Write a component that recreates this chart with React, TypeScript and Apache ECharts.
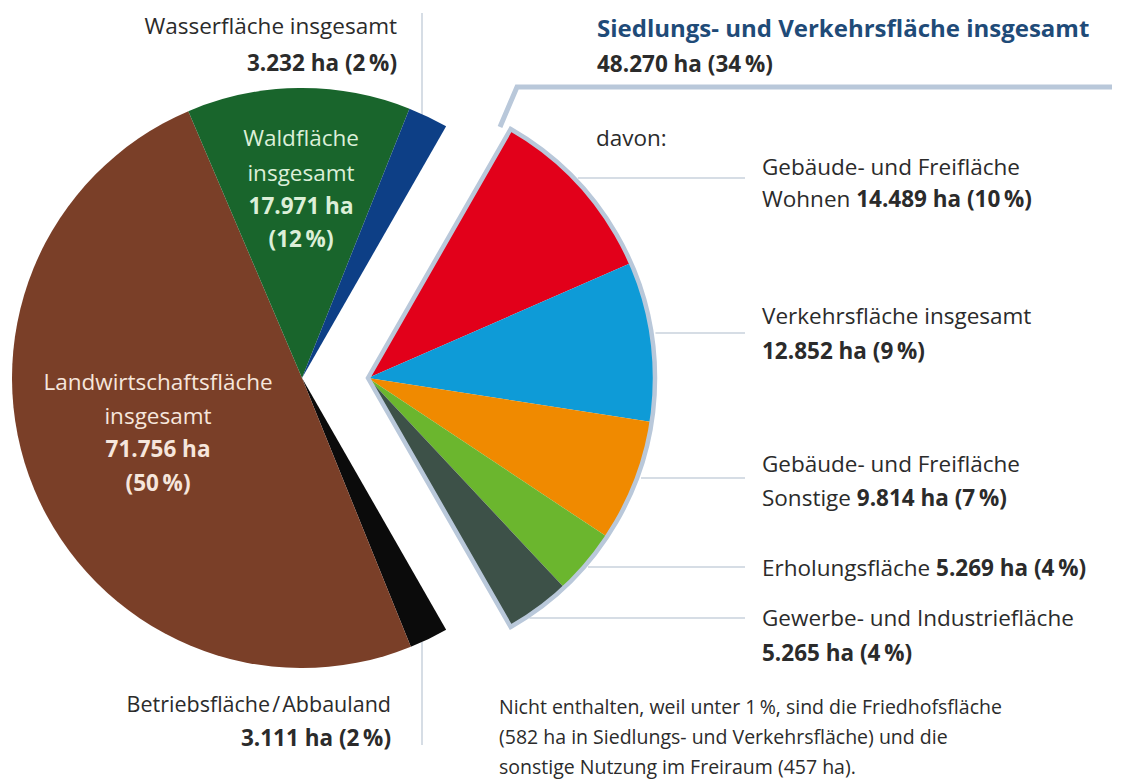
import React, { useEffect, useRef } from "react";
import * as echarts from "echarts";

// ---------- data ----------
const mainNames = [
  "Siedlungs- und Verkehrsfläche insgesamt",
  "Betriebsfläche / Abbauland",
  "Landwirtschaftsfläche insgesamt",
  "Waldfläche insgesamt",
  "Wasserfläche insgesamt",
];
const mainValues = [48270, 3111, 71756, 17971, 3232];
const mainPercents = [34, 2, 50, 12, 2];

const subNames = [
  "Gebäude- und Freifläche Wohnen",
  "Verkehrsfläche insgesamt",
  "Gebäude- und Freifläche Sonstige",
  "Erholungsfläche",
  "Gewerbe- und Industriefläche",
];
const subValues = [14489, 12852, 9814, 5269, 5265];
const subPercents = [10, 9, 7, 4, 4];

const footnoteLines = [
  "Nicht enthalten, weil unter 1\u2009%, sind die Friedhofsfläche",
  "(582 ha in Siedlungs- und Verkehrsfläche) und die",
  "sonstige Nutzung im Freiraum (457 ha).",
];

// ---------- styles ----------
const mainColors = ["rgba(0,0,0,0)", "#0b0b0b", "#7a3f28", "#19652c", "#0d3f86"];
const subColors = ["#e2001a", "#0e9bd7", "#f08a00", "#6bb62e", "#3d5148"];
const FONT = "'Open Sans', 'Noto Sans', sans-serif";
const TXT = "#2b2b2b";
const TITLE = "#1f4b78";
const FRAME = "#b9c8da";
const THIN = "#c9d2dd";
const FS = 22.5;

const C1 = [302, 378];
const C2 = [368, 378];
const R1 = 290;
const R2 = 287;

const fmt = (v: number) => String(v).replace(/\B(?=(\d{3})+(?!\d))/g, ".");
const pct = (p: number) => `(${p}\u2009%)`;
const amount = (v: number, p: number) => `${fmt(v)} ha ${pct(p)}`;

export default function App() {
  const ref = useRef<HTMLDivElement>(null);

  useEffect(() => {
    if (!ref.current) return;
    const chart = echarts.init(ref.current, undefined, { renderer: "svg" });

    const total = mainValues.reduce((a, b) => a + b, 0);
    const subSum = subValues.reduce((a, b) => a + b, 0);
    const startAngle = ((mainValues[0] / total) * 360) / 2;
    // the breakdown fills exactly the sector of the Siedlungs- und Verkehrsfläche
    const subRest = (subSum * (total - mainValues[0])) / mainValues[0];

    const g: any[] = [];
    const rich = (size: number, fill: string) => ({
      n: { fontSize: size, fontFamily: FONT, fill, fontWeight: "normal" },
      b: { fontSize: size, fontFamily: FONT, fill, fontWeight: "bold" },
    });
    const text = (
      x: number,
      y: number,
      t: string,
      o: { bold?: boolean; size?: number; fill?: string; align?: string; rich?: boolean } = {}
    ) => {
      const size = o.size || FS;
      const fill = o.fill || TXT;
      g.push({
        type: "text",
        x,
        y,
        silent: true,
        z: 10,
        style: {
          text: t,
          fill,
          fontSize: size,
          fontFamily: FONT,
          fontWeight: o.bold ? "bold" : "normal",
          textAlign: o.align || "left",
          textVerticalAlign: "middle",
          rich: o.rich ? rich(size, fill) : undefined,
        },
      });
    };
    const line = (x1: number, y1: number, x2: number, y2: number, stroke = THIN, w = 1.5) =>
      g.push({ type: "line", silent: true, z: 1, shape: { x1, y1, x2, y2 }, style: { stroke, lineWidth: w } });

    // vertical separator
    line(422, 13, 422, 116);
    line(422, 642, 422, 745);

    // frame line to Siedlungs header
    g.push({
      type: "polyline",
      silent: true,
      z: 1,
      shape: { points: [[500, 127], [517, 87], [1112, 87]] },
      style: { stroke: FRAME, lineWidth: 5, fill: "none", lineJoin: "miter" },
    });

    // Wasser
    text(397, 25, mainNames[4], { align: "right" });
    text(397, 62, amount(mainValues[4], mainPercents[4]), { bold: true, align: "right" });
    // Betrieb
    text(391, 703, "Betriebsfläche\u200A/\u200AAbbauland", { align: "right", size: 21.5 });
    text(391, 737, amount(mainValues[1], mainPercents[1]), { bold: true, align: "right" });

    // Siedlung header
    text(597, 27, mainNames[0], { bold: true, fill: TITLE, size: 24 });
    text(597, 63, amount(mainValues[0], mainPercents[0]), { bold: true });
    text(596, 137, "davon:");

    // Wald inside
    const wc = "#dcefd8";
    text(301, 137, "Waldfläche", { align: "center", fill: wc });
    text(301, 172, "insgesamt", { align: "center", fill: wc });
    text(301, 205, `${fmt(mainValues[3])} ha`, { align: "center", fill: wc, bold: true });
    text(301, 238, pct(mainPercents[3]), { align: "center", fill: wc, bold: true });

    // Landwirtschaft inside
    const lc = "#f6e6dc";
    text(158, 381, "Landwirtschaftsfläche", { align: "center", fill: lc });
    text(158, 415, "insgesamt", { align: "center", fill: lc });
    text(158, 448, `${fmt(mainValues[2])} ha`, { align: "center", fill: lc, bold: true });
    text(158, 482, pct(mainPercents[2]), { align: "center", fill: lc, bold: true });

    // sub labels
    const subLines: string[][] = [
      ["Gebäude- und Freifläche", "Wohnen"],
      ["Verkehrsfläche insgesamt", ""],
      ["Gebäude- und Freifläche", "Sonstige"],
      ["Erholungsfläche"],
      ["Gewerbe- und Industriefläche", ""],
    ];
    const subY = [[166, 198], [315, 350], [463, 497], [567], [617, 652]];
    const leaderY = [178, 333, 478, 567, 618];
    const LX = 762;
    subLines.forEach((ls, i) => {
      ls.forEach((l, j) => {
        const last = j === ls.length - 1;
        if (last) {
          const val = amount(subValues[i], subPercents[i]);
          const t = l ? `{n|${l} }{b|${val}}` : `{b|${val}}`;
          text(LX, subY[i][j], t, { rich: true });
        } else {
          text(LX, subY[i][j], l);
        }
      });
      const dy = leaderY[i] - C2[1];
      const x0 = C2[0] + Math.sqrt(R2 * R2 - dy * dy) + 4;
      line(x0, leaderY[i], 745, leaderY[i]);
    });

    // footnote
    footnoteLines.forEach((l, i) => text(499, 706 + i * 30, l, { size: 19.5 }));

    const base = {
      type: "pie",
      clockwise: true,
      startAngle,
      silent: true,
      avoidLabelOverlap: false,
      label: { show: false },
      labelLine: { show: false },
      emphasis: { disabled: true },
    };

    chart.setOption({
      animation: false,
      backgroundColor: "#ffffff",
      series: [
        {
          ...base,
          name: "main",
          center: C1,
          radius: [0, R1],
          z: 2,
          data: mainNames.map((n, i) => ({
            name: n,
            value: mainValues[i],
            itemStyle: { color: mainColors[i], borderWidth: 0 },
          })),
        },
        {
          ...base,
          name: "sub",
          center: C2,
          radius: [0, R2],
          z: 3,
          data: [
            ...subNames.map((n, i) => ({
              name: n,
              value: subValues[i],
              itemStyle: { color: subColors[i], borderWidth: 0 },
            })),
            { name: "rest", value: subRest, itemStyle: { color: "rgba(0,0,0,0)", borderWidth: 0 } },
          ],
        },
        {
          ...base,
          name: "frame",
          center: C2,
          radius: [0, R2],
          z: 4,
          data: [
            { name: "frame", value: subSum, itemStyle: { color: "rgba(0,0,0,0)", borderColor: FRAME, borderWidth: 4.5, borderJoin: "miter" } },
            { name: "rest2", value: subRest, itemStyle: { color: "rgba(0,0,0,0)", borderWidth: 0 } },
          ],
        },
      ],
      graphic: { elements: g },
    });

    return () => chart.dispose();
  }, []);

  return (
    <div
      ref={ref}
      style={{ position: "absolute", left: 0, top: 0, width: 1122, height: 783, background: "#fff" }}
    />
  );
}
